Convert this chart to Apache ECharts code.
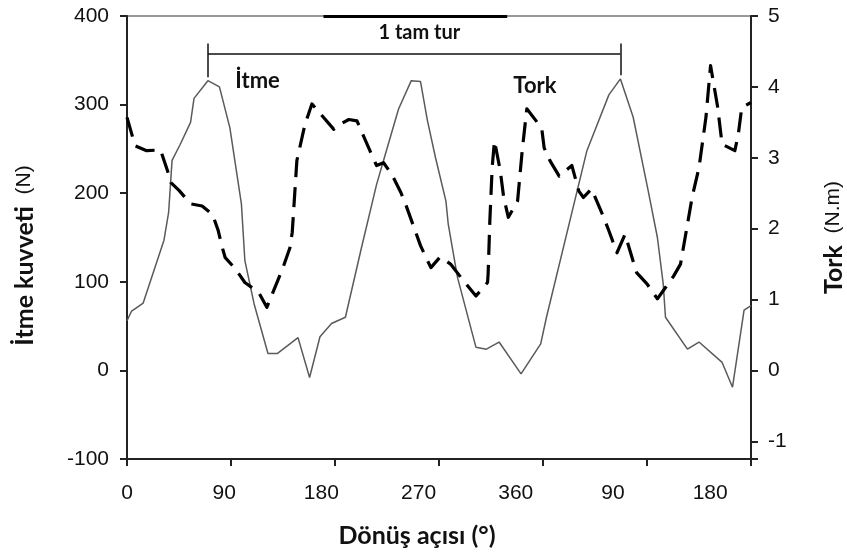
<!DOCTYPE html>
<html>
<head>
<meta charset="utf-8">
<script src="https://cdn.jsdelivr.net/npm/echarts@6/dist/echarts.min.js"></script>
<style>html,body{margin:0;padding:0;background:#fff}#c{width:847px;height:558px}</style>
</head>
<body>
<div id="c"></div>
<script>
// ---- data ----
const thrustAngles = [0,4,14,32,36,39,46,55,58,70,80,89,99,102,110,122,130,148,158,167,177,189,203,216,222,235,246,254,260,267,276,278,286,302,311,322,341,358,363,398,417,427,438,451,459,464,466,485,495,515,524,534,540];
const thrustValues = [56,67,76,147,178,237,255,280,307,327,320,274,188,124,75,19,19,37,-8,38,53,60,139,210,237,295,327,326,282,240,191,165,105,26,24,32,-4,30,60,248,311,329,286,203,150,98,60,24,32,9,-19,68,73];
const torqueAngles = [0,7,17,29,36,38,45,55,65,74,79,82,85,94,102,114,121,135,141,143,147,154,160,179,182,192,199,211,216,222,229,237,241,254,260,263,271,280,290,302,312,312.5,314,316,318,323,326,330,338,342,346,355,359,361,366,374,385,391,395,402,412,417,424,431,441,450,459,466,473,479,485,489,495,501,505,511,515,526,529,532,540];
const torqueValues = [3.57,3.17,3.10,3.11,2.77,2.65,2.54,2.35,2.32,2.20,1.97,1.76,1.59,1.43,1.24,1.10,0.89,1.45,1.73,1.95,2.96,3.47,3.76,3.40,3.45,3.54,3.52,3.07,2.89,2.93,2.77,2.51,2.35,1.76,1.55,1.45,1.60,1.50,1.29,1.05,1.24,1.36,2.11,2.86,3.24,2.82,2.44,2.16,2.39,3.10,3.69,3.50,3.40,3.14,2.96,2.74,2.89,2.53,2.44,2.56,2.18,1.97,1.66,1.92,1.38,1.22,1.01,1.17,1.33,1.50,2.06,2.44,2.86,3.57,4.30,3.73,3.19,3.10,3.33,3.71,3.78];
const xTickLabels = ['0','90','180','270','360','90','180'];
// annotation anchors (data coordinates: angle, thrust N)
const bracketStart = [70, 357];
const bracketEnd = [427, 357];
const bracketTickTop = 369;
const bracketTickBottom = [331, 333];
const topBar = [[170, 400], [329, 400]];
const annotationTexts = [
  {text: '1 tam tur', coord: [253, 381], size: 20},
  {text: 'İtme', coord: [113, 327], size: 22},
  {text: 'Tork', coord: [353, 321], size: 22}
];

const thrust = thrustAngles.map((a, i) => [a, thrustValues[i]]);
const torque = torqueAngles.map((a, i) => [a, torqueValues[i]]);

const chart = echarts.init(document.getElementById('c'), null, {renderer: 'canvas'});
const tickFont = {fontFamily: 'Liberation Sans', fontSize: 21, color: '#111'};
const axisLine = {show: true, onZero: false, lineStyle: {color: '#222', width: 2}};
const tick = {show: true, inside: false, length: 7, lineStyle: {color: '#222', width: 2}};

chart.setOption({
  animation: false,
  backgroundColor: '#fff',
  grid: {left: 127, right: 96, top: 16, bottom: 99, show: true, borderColor: '#333', borderWidth: 1.2, containLabel: false, outerBoundsMode: 'none'},
  xAxis: [
    {
      type: 'value', min: 0, max: 540, interval: 90,
      axisLine: axisLine, axisTick: tick,
      axisLabel: {show: false},
      splitLine: {show: false},
      name: 'Dönüş açısı (°)', nameLocation: 'middle', nameGap: 64,
      nameTextStyle: {fontFamily: 'Lato', fontWeight: 'bold', fontSize: 25, color: '#111', padding: [0, 44, 0, 0]}
    },
    {
      type: 'value', min: 0, max: 6.42, interval: 1, position: 'bottom',
      axisLine: {show: false, onZero: false}, axisTick: {show: false}, splitLine: {show: false},
      axisLabel: Object.assign({margin: 24, formatter: v => Number.isInteger(v) && xTickLabels[v] !== undefined ? xTickLabels[v] : ''}, tickFont)
    }
  ],
  yAxis: [
    {
      type: 'value', min: -100, max: 400, interval: 100, position: 'left',
      axisLine: axisLine, axisTick: tick,
      axisLabel: Object.assign({margin: 18}, tickFont),
      splitLine: {show: false},
      name: '{b|İtme kuvveti}{r|  (N)}', nameLocation: 'middle', nameGap: 90, nameRotate: 90,
      nameTextStyle: {padding: [0, 36, 0, 0], rich: {
        b: {fontFamily: 'Lato', fontWeight: 'bold', fontSize: 25, color: '#111'},
        r: {fontFamily: 'Liberation Sans', fontSize: 21, color: '#111'}
      }}
    },
    {
      type: 'value', min: -1.25, max: 5, splitNumber: 6, position: 'right',
      axisLine: axisLine, axisTick: tick,
      axisLabel: Object.assign({margin: 17, formatter: v => Number.isInteger(v) ? String(v) : ''}, tickFont),
      splitLine: {show: false},
      name: '{b|Tork}{r|  (N.m)}', nameLocation: 'middle', nameGap: 70, nameRotate: 90,
      nameTextStyle: {rich: {
        b: {fontFamily: 'Lato', fontWeight: 'bold', fontSize: 25, color: '#111'},
        r: {fontFamily: 'Liberation Sans', fontSize: 21, color: '#111'}
      }}
    }
  ],
  series: [
    {
      name: 'İtme', type: 'line', xAxisIndex: 0, yAxisIndex: 0,
      data: thrust, showSymbol: false, symbol: 'none', smooth: false,
      lineStyle: {color: '#5a5a5a', width: 1.5},
      z: 3,
      markLine: {
        silent: true, symbol: ['none', 'none'], animation: false,
        label: {show: false},
        lineStyle: {color: '#111', width: 1.5, type: 'solid'},
        data: [
          [{coord: bracketStart}, {coord: bracketEnd}],
          [{coord: [bracketStart[0], bracketTickTop]}, {coord: [bracketStart[0], bracketTickBottom[0]]}],
          [{coord: [bracketEnd[0], bracketTickTop]}, {coord: [bracketEnd[0], bracketTickBottom[1]]}],
          [{coord: topBar[0], lineStyle: {width: 3, color: '#000'}}, {coord: topBar[1]}]
        ]
      },
      markPoint: {
        silent: true, symbol: 'circle', symbolSize: 1, animation: false,
        itemStyle: {color: 'rgba(0,0,0,0)'},
        label: {show: true, position: 'inside', fontFamily: 'Lato', fontWeight: 'bold', color: '#111', formatter: p => p.name},
        data: annotationTexts.map(a => ({name: a.text, coord: a.coord, label: {fontSize: a.size}}))
      }
    },
    {
      name: 'Tork', type: 'line', xAxisIndex: 0, yAxisIndex: 1,
      data: torque, showSymbol: false, symbol: 'none', smooth: false,
      lineStyle: {color: '#000', width: 3.2, type: [20, 10], cap: 'butt', join: 'round'},
      z: 4
    }
  ]
});
</script>
</body>
</html>
